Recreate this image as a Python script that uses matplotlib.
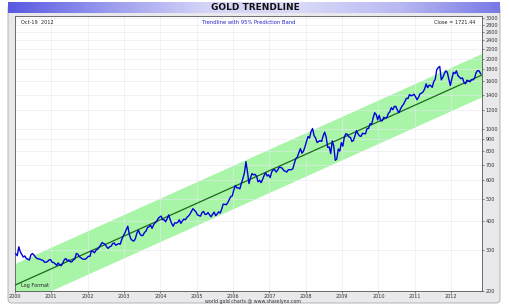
import numpy as np
import matplotlib
matplotlib.use("Agg")
import matplotlib.pyplot as plt
from matplotlib.patches import FancyBboxPatch
from matplotlib.colors import LinearSegmentedColormap
from matplotlib.ticker import FixedLocator, NullLocator

# semi-monthly gold price (USD/oz), Jan 2000 .. Oct 2012
gold = [
    289, 284, 310, 295, 287, 280, 283, 276, 274, 272, 286, 290, 286, 280, 276, 275, 274, 272, 271, 266, 266, 268, 272, 273,
    266, 265, 262, 258, 264, 259, 257, 263, 272, 276, 270, 272, 267, 267, 272, 275, 290, 288, 281, 278, 275, 274, 274, 278,
    282, 282, 298, 296, 292, 300, 302, 308, 315, 323, 320, 318, 310, 305, 310, 312, 320, 322, 315, 317, 320, 318, 333, 345,
    355, 368, 380, 350, 335, 330, 328, 336, 355, 365, 352, 346, 347, 357, 362, 375, 378, 384, 372, 385, 393, 398, 410, 416,
    420, 405, 405, 397, 410, 425, 405, 390, 380, 393, 392, 395, 405, 391, 400, 408, 405, 415, 420, 428, 440, 452, 445, 438,
    425, 422, 420, 435, 440, 427, 428, 435, 425, 417, 428, 437, 422, 429, 438, 433, 450, 473, 472, 470, 480, 495, 510, 513,
    545, 569, 555, 556, 550, 582, 610, 644, 720, 653, 580, 613, 640, 632, 635, 624, 590, 599, 585, 604, 628, 646, 625, 632,
    615, 650, 665, 665, 650, 663, 682, 680, 675, 660, 655, 650, 665, 665, 665, 672, 710, 743, 755, 789, 820, 783, 800, 834,
    880, 924, 910, 971, 1000, 933, 910, 871, 880, 888, 880, 930, 965, 918, 830, 833, 780, 885, 840, 730, 740, 816, 800, 870,
    840, 920, 950, 945, 920, 916, 880, 890, 930, 980, 950, 930, 925, 955, 950, 950, 1000, 1000, 1050, 1040, 1110, 1170, 1150, 1090,
    1140, 1080, 1080, 1118, 1110, 1113, 1160, 1180, 1230, 1205, 1245, 1245, 1200, 1170, 1210, 1246, 1270, 1307, 1350, 1346, 1400, 1383, 1390, 1405,
    1370, 1330, 1365, 1411, 1420, 1439, 1480, 1556, 1500, 1536, 1530, 1505, 1590, 1628, 1790, 1830, 1850, 1620, 1660, 1722, 1770, 1746, 1630, 1531,
    1640, 1744, 1725, 1770, 1690, 1662, 1640, 1651, 1580, 1558, 1615, 1598, 1590, 1622, 1620, 1648, 1740, 1776, 1770, 1721,
]
dates = 2000 + (np.arange(len(gold)) + 0.5) / 24.0

# trendline (log scale) and band width factor
trend_x = [2000.0, 2012.85]
trend_y = [212, 1700]
band_factor = 1.24

years = list(range(2000, 2013))
yticks = [200, 300, 400, 500, 600, 700, 800, 900, 1000, 1200, 1400, 1600, 1800, 2000, 2200, 2400, 2600, 2800, 3000]

fig = plt.figure(figsize=(5.1, 3.06), dpi=100)
fig.patch.set_facecolor("white")

# grey panel behind everything
bg = fig.add_axes([0, 0, 1, 1], zorder=-10)
bg.set_xlim(0, 510)
bg.set_ylim(306, 0)
bg.set_axis_off()
bg.add_patch(FancyBboxPatch((8, 4), 492, 299, boxstyle="round,pad=0,rounding_size=4",
                            facecolor="#e9e9ec", edgecolor="#a8a8b0", lw=0.6))

# title bar
cmap = LinearSegmentedColormap.from_list("tb", ["#5a5ae2", "#9a9aee", "#d4d4f8", "#d8d8f8", "#b8b8f2", "#7a7ae6"])
tax = fig.add_axes([8 / 510, 1 - 13 / 306, 492 / 510, 11 / 306])
tax.imshow(np.linspace(0, 1, 300)[None, :], aspect="auto", cmap=cmap, extent=[0, 1, 0, 1])
tax.set_axis_off()
fig.text(0.5, 1 - 7.5 / 306, "GOLD TRENDLINE", ha="center", va="center", fontsize=6.5, fontweight="bold", color="#111111")

ax = fig.add_axes([15 / 510, 1 - 291 / 306, 467 / 510, 275 / 306])
ax.set_yscale("log")
ax.set_xlim(2000.0, 2012.85)
ax.set_ylim(200, 3050)

tx = np.array(trend_x)
ty = np.array(trend_y, dtype=float)
ax.fill_between(tx, ty / band_factor, ty * band_factor, color="#a8f5a8", lw=0, zorder=1)
ax.plot(tx, ty, color="#1a6a1a", lw=0.9, zorder=3)
ax.plot(dates, gold, color="#0000dd", lw=1.0, zorder=4)

ax.yaxis.set_major_locator(FixedLocator(yticks))
ax.yaxis.set_minor_locator(NullLocator())
ax.set_yticklabels([str(v) for v in yticks])
ax.yaxis.tick_right()
ax.set_xticks(years)
ax.set_xticklabels([str(y) for y in years])
ax.tick_params(axis="both", labelsize=3.5, length=1.5, width=0.4, pad=1.0, colors="#333333")
ax.grid(True, axis="both", color="#e6e6f0", lw=0.4, zorder=0)
for s in ax.spines.values():
    s.set_linewidth(0.6)
    s.set_color("#555555")

ax.text(0.012, 0.985, "Oct-19  2012", transform=ax.transAxes, fontsize=3.6, va="top", ha="left", color="#222222")
ax.text(0.5, 0.985, "Trendline with 95% Prediction Band", transform=ax.transAxes, fontsize=3.8, va="top", ha="center", color="#2222cc")
ax.text(0.985, 0.985, "Close = 1721.44", transform=ax.transAxes, fontsize=3.6, va="top", ha="right", color="#222222")
ax.text(0.012, 0.012, "Log Format", transform=ax.transAxes, fontsize=3.6, va="bottom", ha="left", color="#222222")
fig.text(253 / 510, 1 - 301.5 / 306, "world gold charts @ www.sharelynx.com", fontsize=3.4, ha="center", va="center", color="#333333")

fig.savefig("out.png", dpi=100)
